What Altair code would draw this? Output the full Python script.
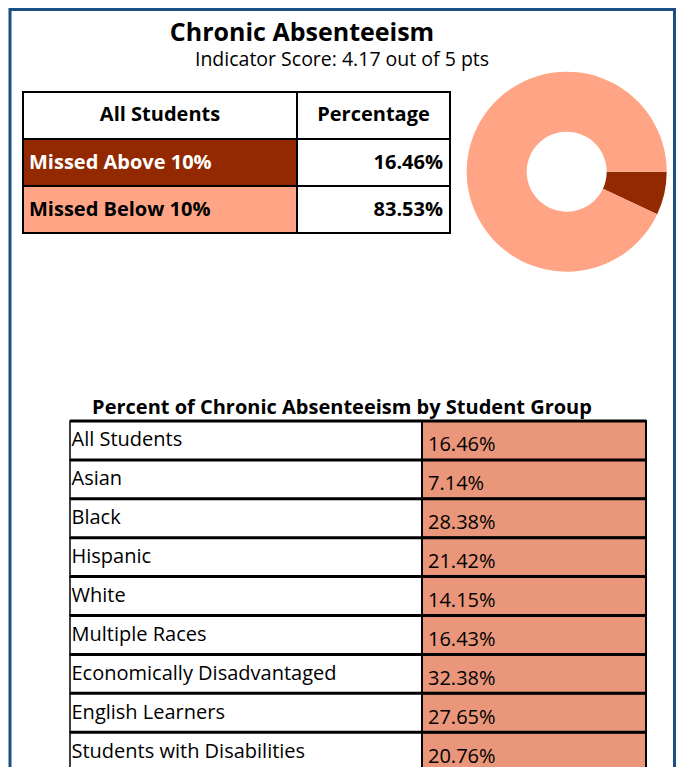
import math
import altair as alt
import pandas as pd

# ---------------- data ----------------
title_text = "Chronic Absenteeism"
subtitle_text = "Indicator Score: 4.17 out of 5 pts"
top_header = ["All Students", "Percentage"]
top_categories = ["Missed Above 10%", "Missed Below 10%"]
top_values = [16.46, 83.53]
donut_categories = ["Missed Above 10%", "Missed Below 10%"]
donut_shares = [7.0, 93.0]  # slice sizes as drawn in the donut
group_title = "Percent of Chronic Absenteeism by Student Group"
groups = [
    "All Students", "Asian", "Black", "Hispanic", "White", "Multiple Races",
    "Economically Disadvantaged", "English Learners", "Students with Disabilities",
]
group_values = [16.46, 7.14, 28.38, 21.42, 14.15, 16.43, 32.38, 27.65, 20.76]

# ---------------- style / layout ----------------
W, H = 668, 759
FONT = "Open Sans"
DARK = "#932900"
LIGHT = "#FFA586"
SALMON = "#E9967A"
BLUE = "#1B4F86"

top_rows = [top_header[0]] + top_categories
top_df = pd.DataFrame({
    "row": top_rows,
    "kind": ["header"] + top_categories,
    "pct": [top_header[1]] + [f"{v:.2f}%" for v in top_values],
})
donut_df = pd.DataFrame({"category": donut_categories, "share": donut_shares,
                         "order": list(range(len(donut_shares)))})
bottom_df = pd.DataFrame({"group": groups, "value": group_values,
                          "label": [f"{v:.2f}%" for v in group_values]})
one = pd.DataFrame({"a": [0]})


def y_top(**kw):
    return alt.Y("row:N", scale=alt.Scale(domain=top_rows, range=[84, 225],
                                          paddingInner=0, paddingOuter=0),
                 axis=None, **kw)


def y_bot(**kw):
    return alt.Y("group:N", scale=alt.Scale(domain=groups, range=[413, 413 + 9 * 38.9],
                                            paddingInner=0, paddingOuter=0),
                 axis=None, **kw)


layers = []

# frame
layers.append(alt.Chart(one).mark_rect(filled=False, stroke=BLUE, strokeWidth=3).encode(
    x=alt.value(2), x2=alt.value(666.5), y=alt.value(1.5), y2=alt.value(H + 20)))

# titles
layers.append(alt.Chart(pd.DataFrame({"t": [title_text]})).mark_text(
    font=FONT, fontWeight="bold", fontSize=25, align="center", baseline="alphabetic",
    color="black").encode(x=alt.value(294), y=alt.value(33), text="t:N"))
layers.append(alt.Chart(pd.DataFrame({"t": [subtitle_text]})).mark_text(
    font=FONT, fontSize=19.5, align="center", baseline="alphabetic",
    color="black").encode(x=alt.value(334), y=alt.value(58), text="t:N"))

# top table
layers.append(alt.Chart(top_df).mark_rect(stroke="black", strokeWidth=2).encode(
    x=alt.value(15), x2=alt.value(289), y=y_top(),
    color=alt.Color("kind:N", scale=alt.Scale(domain=["header"] + top_categories,
                                              range=["white", DARK, LIGHT]), legend=None)))
layers.append(alt.Chart(top_df).mark_rect(stroke="black", strokeWidth=2, fill="white").encode(
    x=alt.value(289), x2=alt.value(442), y=y_top()))
layers.append(alt.Chart(top_df).transform_filter(alt.datum.kind == "header").mark_text(
    font=FONT, fontWeight="bold", fontSize=20, align="center", baseline="alphabetic", dy=5.5,
    color="black").encode(x=alt.value(152), y=y_top(), text="row:N"))
layers.append(alt.Chart(top_df).transform_filter(alt.datum.kind == "header").mark_text(
    font=FONT, fontWeight="bold", fontSize=20, align="center", baseline="alphabetic", dy=5.5,
    color="black").encode(x=alt.value(365.5), y=y_top(), text="pct:N"))
layers.append(alt.Chart(top_df).transform_filter(alt.datum.kind != "header").mark_text(
    font=FONT, fontWeight="bold", fontSize=20, align="left", baseline="alphabetic", dy=6).encode(
    x=alt.value(21), y=y_top(), text="row:N",
    color=alt.condition(alt.datum.kind == top_categories[0], alt.value("white"), alt.value("black"))))
layers.append(alt.Chart(top_df).transform_filter(alt.datum.kind != "header").mark_text(
    font=FONT, fontWeight="bold", fontSize=20, align="right", baseline="alphabetic", dy=6,
    color="black").encode(x=alt.value(435), y=y_top(), text="pct:N"))

# donut
layers.append(alt.Chart(donut_df).mark_arc(innerRadius=40, outerRadius=100).encode(
    theta=alt.Theta("share:Q", stack=True,
                    scale=alt.Scale(range=[math.pi / 2, math.pi / 2 + 2 * math.pi])),
    color=alt.Color("category:N", scale=alt.Scale(domain=donut_categories, range=[DARK, LIGHT]),
                    legend=None),
    order=alt.Order("order:Q"),
    x=alt.value(558.7), y=alt.value(163.7)))

# bottom table
layers.append(alt.Chart(pd.DataFrame({"t": [group_title]})).mark_text(
    font=FONT, fontWeight="bold", fontSize=20, align="center", baseline="alphabetic",
    color="black").encode(x=alt.value(334), y=alt.value(406), text="t:N"))
layers.append(alt.Chart(bottom_df).mark_rect(stroke="black", strokeWidth=1.5, fill="white").encode(
    x=alt.value(62), x2=alt.value(414), y=y_bot()))
layers.append(alt.Chart(bottom_df).mark_rect(stroke="black", strokeWidth=2, fill=SALMON).encode(
    x=alt.value(414), x2=alt.value(638), y=y_bot()))
layers.append(alt.Chart(bottom_df).mark_rule(stroke="black", strokeWidth=3).encode(
    x=alt.value(62), x2=alt.value(638), y=y_bot(bandPosition=0)))
layers.append(alt.Chart(bottom_df).mark_text(
    font=FONT, fontSize=20, align="left", baseline="alphabetic", dy=6, color="black").encode(
    x=alt.value(63.5), y=y_bot(), text="group:N"))
layers.append(alt.Chart(bottom_df).mark_text(
    font=FONT, fontSize=20, align="left", baseline="alphabetic", dy=11, color="black").encode(
    x=alt.value(420), y=y_bot(), text="label:N"))

chart = alt.layer(*layers).resolve_scale(
    x="independent", y="independent", color="independent"
).properties(
    width=W, height=H, padding=0, autosize=alt.AutoSizeParams(type="none")
).configure_view(stroke=None)

chart.save("out.html", embed_options={"renderer": "svg", "actions": False})
